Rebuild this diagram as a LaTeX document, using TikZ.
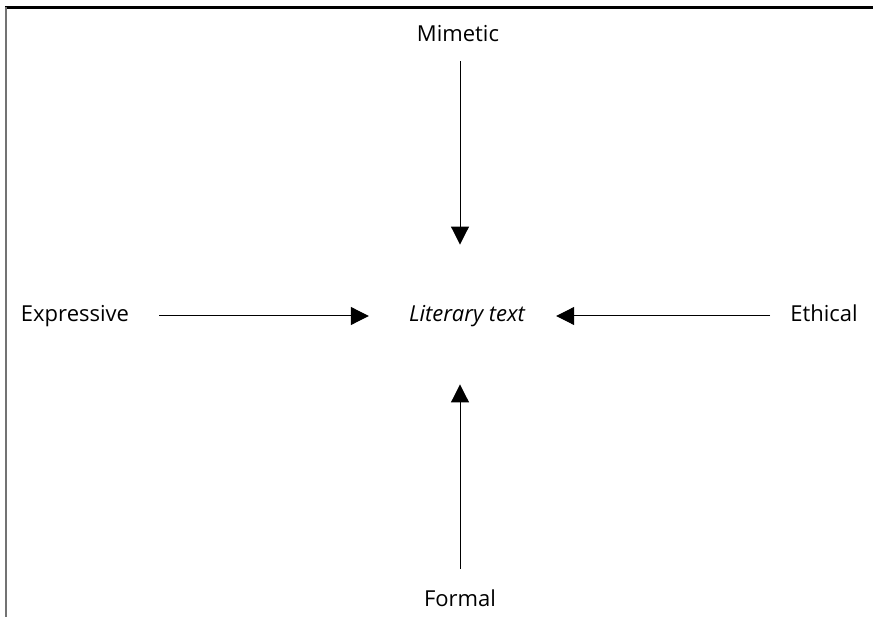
\documentclass[tikz,border=0pt]{standalone}
\usepackage{fontspec}
\setmainfont{Open Sans}
\usetikzlibrary{arrows.meta}
\begin{document}
\begin{tikzpicture}[>={Triangle[length=18pt,width=18pt]},x=1pt,y=-1pt,
    lbl/.style={inner sep=0pt,font=\fontsize{22}{26}\selectfont,text height=17pt,text depth=5.5pt},
    arr/.style={->,line width=1pt}]
            \useasboundingbox (0,0) rectangle (873,617);
            % frame
            \draw[line width=2.2pt] (5,7.5) -- (873,7.5);
            \draw[line width=2.4pt,black!55] (6,7) -- (6,617);
            % labels
            \node[lbl] (mim) at (458,36) {Mimetic};
            \node[lbl] (lit) at (467,316) {\itshape Literary text};
            \node[lbl] (exp) at (75,316) {Expressive};
            \node[lbl] (eth) at (824,316) {Ethical};
            \node[lbl] (frm) at (460,601) {Formal};
            % arrows
            \draw[arr,shorten <=14pt,shorten >=60pt] (mim.south -| 460,0) -- (lit.north -| 460,0);
            \draw[arr,shorten <=21pt,shorten >=57pt] (frm.north -| 460,0) -- (lit.south -| 460,0);
            \draw[arr,shorten <=30pt,shorten >=40pt] (exp) -- (lit);
            \draw[arr,shorten <=20pt,shorten >=31pt] (eth) -- (lit);
    \end{tikzpicture}
\end{document}
